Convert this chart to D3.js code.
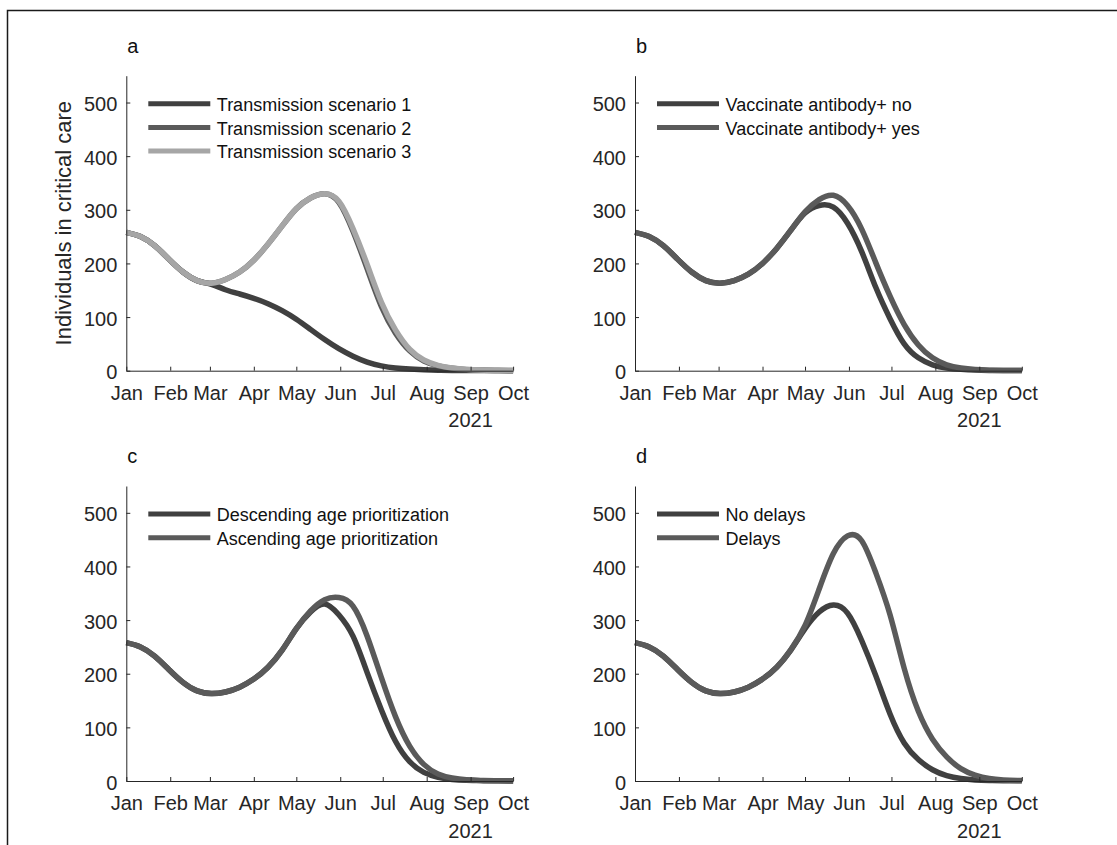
<!DOCTYPE html>
<html>
<head>
<meta charset="utf-8">
<script src="https://cdn.jsdelivr.net/npm/d3@7"></script>
<style>
  body { margin: 0; background: #fff; }
  svg { display: block; font-family: "Liberation Sans", Arial, sans-serif; }
</style>
</head>
<body>
<svg id="chart" width="1117" height="845"></svg>
<script>
const days = [0, 10, 20, 30, 40, 50, 60, 70, 80, 90, 100, 110, 120, 130, 140,
  150, 160, 170, 180, 190, 200, 210, 220, 230, 240, 250, 260, 270, 273]

// Jan - Feb, shared by every scenario
const earlyPhase = [258, 250, 233, 208, 184, 168]

// panel a
const scenario1 = earlyPhase.concat([161, 151, 143, 135, 125, 112, 96, 77, 58, 41, 27, 16, 9, 5, 3, 1.8, 1, 0.6, 0.4, 0.3, 0.2, 0.1, 0.1])
const scenario2 = earlyPhase.concat([163, 170, 184, 206, 236, 270, 302, 322, 330, 314, 260, 190, 120, 70, 37, 18, 9, 4.5, 2, 1, 0.5, 0.3, 0.3])
const scenario3 = earlyPhase.concat([163, 170, 184, 206, 236, 270, 302, 322, 330, 316, 265, 198, 128, 76, 40, 20, 10, 5, 2.5, 1.2, 0.6, 0.3, 0.3])

// panel b
const antibodyNo = earlyPhase.concat([163, 168, 180, 200, 228, 262, 294, 308, 305, 275, 222, 155, 97, 50, 24, 11, 5, 2.5, 1.2, 0.6, 0.3, 0.2, 0.2])
const antibodyYes = earlyPhase.concat([163, 168, 180, 200, 228, 262, 296, 319, 327, 308, 264, 201, 139, 86, 48, 24, 11, 5, 2.2, 1, 0.5, 0.3, 0.3])

// panel c
const descendingAge = earlyPhase.concat([163, 166, 175, 190, 212, 244, 284, 315, 330, 310, 270, 202, 133, 74, 36, 16, 7, 3, 1.4, 0.7, 0.4, 0.2, 0.2])
const ascendingAge = earlyPhase.concat([163, 166, 175, 190, 212, 244, 284, 317, 338, 342, 326, 270, 193, 120, 65, 31, 13, 5.5, 2.2, 1, 0.5, 0.3, 0.3])

// panel d
const noDelays = earlyPhase.concat([163, 166, 175, 190, 212, 244, 284, 315, 328, 313, 262, 196, 125, 71, 40, 21, 10, 4.5, 2, 1, 0.5, 0.3, 0.3])
const withDelays = earlyPhase.concat([163, 166, 175, 190, 212, 245, 290, 358, 424, 457, 448, 388, 310, 210, 130, 78, 45, 23, 11, 4.5, 2, 1, 0.8])

const monthLabels = ["Jan", "Feb", "Mar", "Apr", "May", "Jun", "Jul", "Aug", "Sep", "Oct"]
const yTicks = [0, 100, 200, 300, 400, 500]
const yearLabel = "2021"
const yTitle = "Individuals in critical care"

const dark = "#404040", mid = "#5a5a5a", light = "#a6a6a6"
const ink = "#262626"

const panels = [
  {label: "a", left: 126.3, base: 370.7, series: [
    {name: "Transmission scenario 1", values: scenario1, color: dark},
    {name: "Transmission scenario 2", values: scenario2, color: mid},
    {name: "Transmission scenario 3", values: scenario3, color: light}]},
  {label: "b", left: 635, base: 370.7, series: [
    {name: "Vaccinate antibody+ no", values: antibodyNo, color: dark},
    {name: "Vaccinate antibody+ yes", values: antibodyYes, color: mid}]},
  {label: "c", left: 126.3, base: 781, series: [
    {name: "Descending age prioritization", values: descendingAge, color: dark},
    {name: "Ascending age prioritization", values: ascendingAge, color: mid}]},
  {label: "d", left: 635, base: 781, series: [
    {name: "No delays", values: noDelays, color: dark},
    {name: "Delays", values: withDelays, color: mid}]}
]

const W = 386.8, H = 295
const start = new Date(2021, 0, 1)
const dates = days.map(d => d3.timeDay.offset(start, d))

const x = d3.scaleTime()
    .domain([start, new Date(2021, 9, 1)])
    .range([0, W])

const y = d3.scaleLinear()
    .domain([0, 550])
    .range([H, 0])

const line = d3.line()
    .x((d, i) => x(dates[i]))
    .y(d => y(d))
    .curve(d3.curveNatural)

const svg = d3.select("#chart")

svg.append("rect").attr("width", 1117).attr("height", 845).attr("fill", "#fff")

// figure frame (top and left edges only)
svg.append("path")
    .attr("d", "M7.5,845V10.5H1117")
    .attr("fill", "none")
    .attr("stroke", "#1a1a1a")
    .attr("stroke-width", 1.5)

panels.forEach(p => {
    const g = svg.append("g").attr("transform", `translate(${p.left},${p.base - H})`)

    // lines, last series on top
    p.series.forEach(s => {
        g.append("path")
            .attr("d", line(s.values))
            .attr("fill", "none")
            .attr("stroke", s.color)
            .attr("stroke-width", 5.5)
    })

    const xAxis = g.append("g")
        .attr("transform", `translate(0,${H})`)
        .call(d3.axisBottom(x)
            .ticks(d3.timeMonth.every(1))
            .tickFormat((d, i) => monthLabels[i])
            .tickSizeInner(-4)
            .tickSizeOuter(0))
    xAxis.selectAll("text")
        .attr("y", 29.3).attr("dy", null)
        .style("font-size", "20px")
    xAxis.append("text")
        .attr("x", x(new Date(2021, 8, 1)))
        .attr("y", 56.6)
        .attr("fill", ink)
        .attr("text-anchor", "middle")
        .style("font-size", "20px")
        .text(yearLabel)

    const yAxis = g.append("g")
        .call(d3.axisLeft(y)
            .tickValues(yTicks)
            .tickSizeInner(-4)
            .tickSizeOuter(0)
            .tickPadding(9))
    yAxis.selectAll("text").style("font-size", "20px").attr("dy", "0.4em")

    g.selectAll(".domain, .tick line").attr("stroke", ink)
    g.selectAll(".tick text").attr("fill", ink).style("font-family", "'Liberation Sans', Arial, sans-serif")

    // panel letter
    g.append("text")
        .attr("x", 1)
        .attr("y", -23)
        .attr("fill", "#111")
        .style("font-size", "20px")
        .text(p.label)

    // legend
    const legend = g.selectAll("g.legend")
        .data(p.series)
        .enter()
        .append("g")
        .attr("transform", (d, i) => `translate(0,${28 + i * 23.7})`)
    legend.append("line")
        .attr("x1", 22).attr("x2", 84)
        .attr("stroke", d => d.color)
        .attr("stroke-width", 5)
    legend.append("text")
        .attr("x", 90.5)
        .attr("dy", "0.4em")
        .attr("fill", "#111")
        .style("font-size", "18px")
        .text(d => d.name)
})

// y title on panel a only
svg.append("text")
    .attr("transform", `translate(71,${370.7 - H / 2}) rotate(-90)`)
    .attr("text-anchor", "middle")
    .attr("fill", ink)
    .style("font-size", "22px")
    .text(yTitle)
</script>
</body>
</html>
